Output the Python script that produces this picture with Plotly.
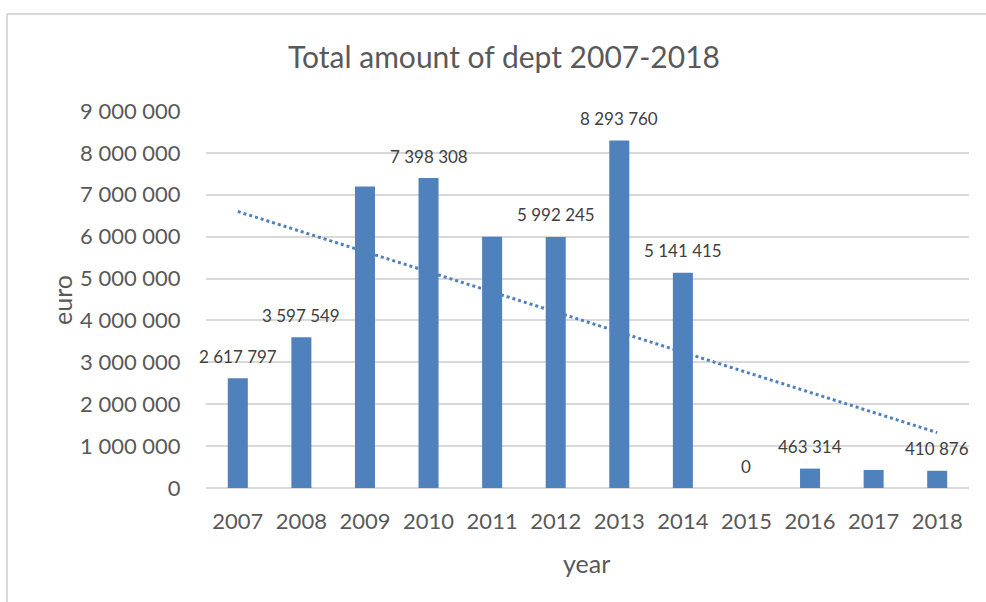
import numpy as np
import plotly.graph_objects as go

# Debt per year, in euro
years = ["2007", "2008", "2009", "2010", "2011", "2012",
         "2013", "2014", "2015", "2016", "2017", "2018"]
debt = [2617797, 3597549, 7200000, 7398308, 6000000, 5992245,
        8293760, 5141415, 0, 463314, 430000, 410876]
# Years that carry a value label above the bar
labeled = [True, True, False, True, False, True,
           True, True, True, True, False, True]

y_ticks = [0, 1000000, 2000000, 3000000, 4000000, 5000000,
           6000000, 7000000, 8000000, 9000000]

BAR = "#4f81bd"
TXT = "#595959"
GRID = "#d9d9d9"
FONT = "Lato, 'Open Sans', sans-serif"

W, H = 986, 602
ML, MR, MT, MB = 206, 17, 111, 114
PW, PH = W - ML - MR, H - MT - MB


def px_x(px):
    return (px - ML) / PW


def px_y(py):
    return (H - MB - py) / PH


def fmt(v):
    return f"{v:,}".replace(",", " ")


# Linear trend over the year index
idx = np.arange(len(debt))
slope, intercept = np.polyfit(idx, np.array(debt, dtype=float), 1)
trend = slope * idx + intercept

fig = go.Figure()
fig.add_trace(go.Bar(x=years, y=debt, marker=dict(color=BAR, line=dict(width=0)),
                     hoverinfo="x+y"))
fig.add_trace(go.Scatter(x=years, y=trend, mode="lines",
                         line=dict(color=BAR, width=3, dash="dot"),
                         hoverinfo="skip"))

annotations = []
for i, (v, show) in enumerate(zip(debt, labeled)):
    if show:
        # category position given by index
        annotations.append(dict(x=i, y=v, xref="x", yref="y", text=fmt(v),
                                showarrow=False, yanchor="middle", yshift=22,
                                font=dict(family=FONT, size=17, color="#404040")))

# axis titles
annotations.append(dict(x=px_x(62), y=px_y(300), xref="paper", yref="paper",
                        text="euro", textangle=-90, showarrow=False,
                        xanchor="center", yanchor="middle",
                        font=dict(family=FONT, size=25, color=TXT)))
annotations.append(dict(x=px_x(586), y=px_y(563), xref="paper", yref="paper",
                        text="year", showarrow=False,
                        xanchor="center", yanchor="middle",
                        font=dict(family=FONT, size=25, color=TXT)))

# chart frame (top and left edges)
shapes = [
    dict(type="line", xref="paper", yref="paper", x0=px_x(7), x1=px_x(1000),
         y0=px_y(14), y1=px_y(14), line=dict(color=GRID, width=2)),
    dict(type="line", xref="paper", yref="paper", x0=px_x(7), x1=px_x(7),
         y0=px_y(14), y1=px_y(620), line=dict(color=GRID, width=2)),
]

fig.update_layout(
    width=W, height=H,
    margin=dict(l=ML, r=MR, t=MT, b=MB),
    paper_bgcolor="white", plot_bgcolor="white",
    showlegend=False,
    bargap=0.685,
    title=dict(text="Total amount of dept 2007-2018", xref="container",
               x=504 / W, xanchor="center", yref="container",
               y=1 - 57 / H, yanchor="middle",
               font=dict(family=FONT, size=30, color=TXT)),
    annotations=annotations,
    shapes=shapes,
    font=dict(family=FONT, color=TXT),
)

fig.update_xaxes(type="category", categoryorder="array", categoryarray=years,
                 range=[-0.5, len(years) - 0.5],
                 showgrid=False, zeroline=False, showline=False,
                 ticks="outside", ticklen=14, tickcolor="rgba(0,0,0,0)",
                 tickfont=dict(family=FONT, size=22, color=TXT))
fig.update_yaxes(range=[0, 9000000], tickvals=y_ticks,
                 ticktext=[fmt(v) for v in y_ticks],
                 showgrid=True, gridcolor=GRID, gridwidth=2,
                 zeroline=True, zerolinecolor=GRID, zerolinewidth=2,
                 showline=False, ticks="outside", ticklen=20,
                 tickcolor="rgba(0,0,0,0)",
                 tickfont=dict(family=FONT, size=22, color=TXT))

fig.write_html("out.html")
